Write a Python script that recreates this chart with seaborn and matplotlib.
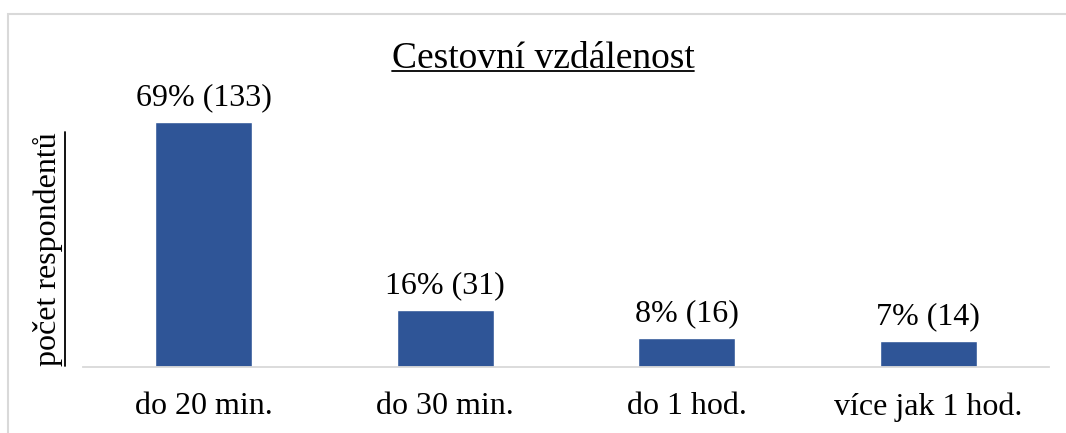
import matplotlib
matplotlib.use("Agg")
import matplotlib.pyplot as plt
import seaborn as sns
import pandas as pd
from matplotlib.lines import Line2D
from matplotlib.patches import Rectangle

categories = ["do 20 min.", "do 30 min.", "do 1 hod.", "více jak 1 hod."]
counts = [133, 31, 16, 14]
percents = [69, 16, 8, 7]
title = "Cestovní vzdálenost"
ylabel = "počet respondentů"

sns.set_theme(style="white")
plt.rcParams["font.family"] = ["Liberation Serif", "DejaVu Serif"]

W, H = 1066, 433
fig = plt.figure(figsize=(W / 100, H / 100), dpi=100)
ax_left, ax_right = 83, 1049
ax_bottom, ax_top = 367, 60
ax = fig.add_axes([ax_left / W, 1 - ax_bottom / H, (ax_right - ax_left) / W, (ax_bottom - ax_top) / H])

df = pd.DataFrame({"cat": categories, "n": counts})
sns.barplot(data=df, x="cat", y="n", color="#2F5597", width=0.40, ax=ax, saturation=1)
ymax = (ax_bottom - ax_top) / (245 / 133)
ax.set_ylim(0, ymax)
ax.set_xlim(-0.5, len(categories) - 0.5)

for i, (c, p) in enumerate(zip(counts, percents)):
    ax.annotate(f"{p}% ({c})", (i, c), xytext=(0, 7), textcoords="offset points",
                ha="center", va="bottom", fontsize=23, color="#000000")

for s in ["top", "right", "left"]:
    ax.spines[s].set_visible(False)
ax.spines["bottom"].set_color("#D9D9D9")
ax.spines["bottom"].set_linewidth(1.3)
ax.set_yticks([])
ax.set_xlabel("")
ax.set_ylabel("")
ax.tick_params(axis="x", length=0, pad=18, labelsize=23, colors="#000000")

# outer border
fig.patches.append(Rectangle((8 / W, -0.05), 1.1, 1 - 14 / H + 0.05, transform=fig.transFigure,
                             fill=False, edgecolor="#D9D9D9", linewidth=1.5))

# title and y label with underline
t = fig.text(543 / W, 1 - 68 / H, title, ha="center", va="baseline", fontsize=27, color="#000000")
yl = fig.text(63 / W, 1 - 249 / H, ylabel, ha="right", va="center", rotation=90,
              fontsize=23, color="#000000")
fig.canvas.draw()
r = fig.canvas.get_renderer()
bb = t.get_window_extent(r)
base_y = 1 - 71 / H
fig.lines.append(Line2D([bb.x0 / W, bb.x1 / W], [base_y, base_y], transform=fig.transFigure,
                        color="black", linewidth=1.3))
bb2 = yl.get_window_extent(r)
ux = 65 / W
fig.lines.append(Line2D([ux, ux], [bb2.y0 / H, bb2.y1 / H], transform=fig.transFigure,
                        color="black", linewidth=1.3))

fig.savefig("out.png", dpi=100, facecolor="white")
